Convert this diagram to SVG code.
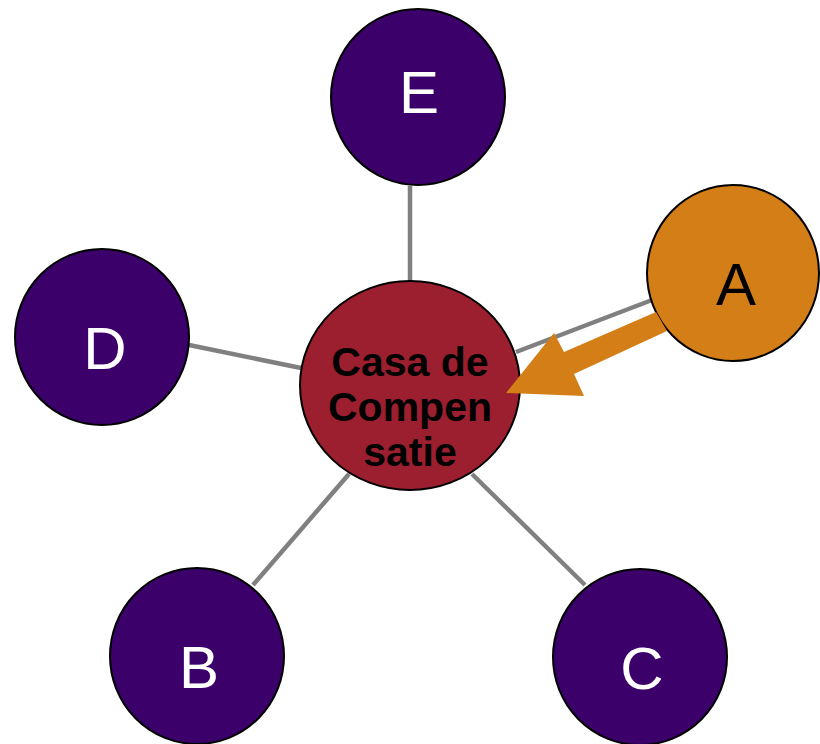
<svg xmlns="http://www.w3.org/2000/svg" width="820" height="744" viewBox="0 0 820 744">
<style>
.edge{stroke:#808080;stroke-width:4.5;fill:none}
.node{stroke:#000;stroke-width:2}
.outer{fill:#3B006A}
.lbl{font-family:"Liberation Sans",Arial,sans-serif;font-size:60px;text-anchor:middle;fill:#fff}
.hub{font-family:"Liberation Sans",Arial,sans-serif;font-size:41px;font-weight:bold;text-anchor:middle;fill:#000}
</style>
<rect width="820" height="744" fill="#fff"/>
<g id="connectors">
<line class="edge" x1="410" y1="186" x2="410" y2="282"/>
<line class="edge" x1="189" y1="345" x2="301" y2="368"/>
<line class="edge" x1="652" y1="300" x2="516" y2="352"/>
<line class="edge" x1="253" y1="585" x2="349" y2="474"/>
<line class="edge" x1="585" y1="585" x2="472" y2="474"/>
</g>
<g id="node-E"><ellipse class="node outer" cx="418" cy="97" rx="87" ry="88"/><text class="lbl" x="419" y="113">E</text></g>
<g id="node-D"><ellipse class="node outer" cx="102" cy="337" rx="87" ry="88"/><text class="lbl" x="105" y="369">D</text></g>
<g id="node-B"><ellipse class="node outer" cx="197" cy="656" rx="87" ry="88"/><text class="lbl" x="199" y="688">B</text></g>
<g id="node-C"><ellipse class="node outer" cx="640" cy="657" rx="87" ry="88"/><text class="lbl" x="642" y="689">C</text></g>
<g id="node-A"><ellipse class="node" fill="#D47E17" cx="733" cy="273" rx="86" ry="88"/><text class="lbl" x="736" y="305" fill="#000" style="fill:#000">A</text></g>
<g id="node-hub"><ellipse class="node" fill="#9B1F2E" cx="410" cy="385.5" rx="110" ry="104.5"/>
<text class="hub" x="410" y="376">Casa de</text>
<text class="hub" x="410" y="421">Compen</text>
<text class="hub" x="410" y="466">satie</text></g>
<g id="arrow"><polygon fill="#D47E17" points="656,312 564,352 554,333 506,393 584,396 574,374 667,331"/></g>
</svg>
